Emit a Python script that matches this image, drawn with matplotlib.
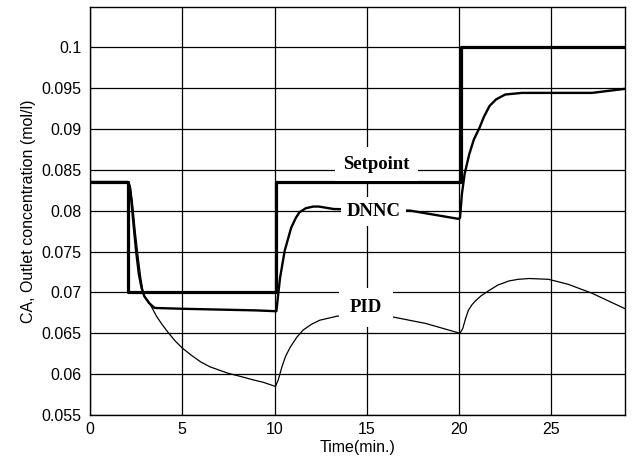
import matplotlib
matplotlib.use('Agg')
import matplotlib.pyplot as plt

plt.rcParams['font.family'] = ['Liberation Sans', 'DejaVu Sans']

# Setpoint steps
setpoint_t = [0, 2.05, 10.1, 20.1, 29]
setpoint_v = [0.0835, 0.07, 0.0835, 0.1, 0.1]

# DNNC controller response
dnnc_t = [0, 2.05, 2.15, 2.25, 2.35, 2.5, 2.65, 2.8, 2.95, 3.2, 3.5, 5, 7, 9, 10.1,
          10.2, 10.3, 10.55, 10.9, 11.15, 11.35, 11.7, 12.1, 12.4, 13.2, 15, 17.35, 19.95,
          20.05, 20.15, 20.3, 20.55, 20.8, 21.1, 21.35, 21.65, 22.0, 22.5, 23.4, 25, 27.2, 29]
dnnc_v = [0.0835, 0.0835, 0.0830, 0.0810, 0.0785, 0.0750, 0.0722, 0.0705, 0.0695, 0.0687, 0.0681,
          0.0680, 0.0679, 0.0678, 0.0677,
          0.0698, 0.0718, 0.0751, 0.0779, 0.0791, 0.0798, 0.0803, 0.0805, 0.0805, 0.0802, 0.0801,
          0.0800, 0.0790,
          0.0791, 0.0820, 0.0845, 0.0869, 0.0887, 0.0901, 0.0915, 0.0928, 0.0936, 0.0942, 0.0944,
          0.0944, 0.0944, 0.0949]

# PID controller response
pid_t = [0, 2.1, 2.2, 2.3, 2.45, 2.6, 2.75, 2.9, 3.2, 3.6, 3.9, 4.2, 4.6, 5.0, 5.5, 6.0, 6.5,
         7.5, 8.2, 8.85, 9.4, 10.05,
         10.2, 10.4, 10.6, 10.85, 11.2, 11.55, 12.0, 12.45, 13.4, 14.9, 16.4, 18.2, 20.05,
         20.2, 20.35, 20.5, 20.7, 20.9, 21.2, 21.6, 22.1, 22.7, 23.2, 23.8, 24.85, 25.9, 27.2, 29]
pid_v = [0.0835, 0.0835, 0.0828, 0.0810, 0.0775, 0.0745, 0.0718, 0.0697, 0.0688, 0.0671, 0.0661,
         0.0652, 0.0641, 0.0632, 0.0623, 0.0615, 0.0609,
         0.0601, 0.0597, 0.0593, 0.0590, 0.0585,
         0.0593, 0.0609, 0.0622, 0.0633, 0.0645, 0.0654, 0.0661, 0.0666, 0.0671, 0.0672,
         0.0670, 0.0662, 0.0650,
         0.0656, 0.0668, 0.0678, 0.0685, 0.0690, 0.0696, 0.0702, 0.0709, 0.0714, 0.0716,
         0.0717, 0.0716, 0.0710, 0.0699, 0.0680]

x_ticks = [0, 5, 10, 15, 20, 25]
y_ticks = [0.055, 0.06, 0.065, 0.07, 0.075, 0.08, 0.085, 0.09, 0.095, 0.1]
y_labels = ['0.055', '0.06', '0.065', '0.07', '0.075', '0.08', '0.085', '0.09', '0.095', '0.1']

fig = plt.figure(figsize=(6.36, 4.69), dpi=100)
ax = fig.add_axes([0.1415, 0.115, 0.8415, 0.87])

ax.plot(pid_t, pid_v, color='black', lw=0.9)
ax.plot(dnnc_t, dnnc_v, color='black', lw=1.7)
ax.plot(setpoint_t, setpoint_v, color='black', lw=2.3, drawstyle='steps-post')

ax.set_xlim(0, 29)
ax.set_ylim(0.055, 0.1049)
ax.set_xticks(x_ticks)
ax.set_yticks(y_ticks)
ax.set_yticklabels(y_labels)
ax.grid(True, color='black', lw=0.9)
ax.set_axisbelow(True)
ax.tick_params(length=0, labelsize=11.5, pad=6)
ax.tick_params(axis='x', pad=5)
for s in ax.spines.values():
    s.set_linewidth(1.0)

ax.set_xlabel('Time(min.)', fontsize=11.5, labelpad=2)
ax.set_ylabel('CA, Outlet concentration (mol/l)', fontsize=11.5, labelpad=4)

# Curve labels, white boxes hide the lines behind them
ax.text(15.5, 0.0857, 'Setpoint', family='Liberation Serif', fontweight='bold',
        fontsize=13.5, ha='center', va='center', zorder=5,
        bbox=dict(facecolor='white', edgecolor='none', pad=6))
ax.text(15.35, 0.0799, 'DNNC', family='Liberation Serif', fontweight='bold',
        fontsize=13.5, ha='center', va='center', zorder=5,
        bbox=dict(facecolor='white', edgecolor='none', pad=4))
ax.text(14.95, 0.0682, 'PID', family='Liberation Serif', fontweight='bold',
        fontsize=13.5, ha='center', va='center', zorder=5,
        bbox=dict(facecolor='white', edgecolor='none', pad=8))

fig.savefig('out.png', dpi=100)
